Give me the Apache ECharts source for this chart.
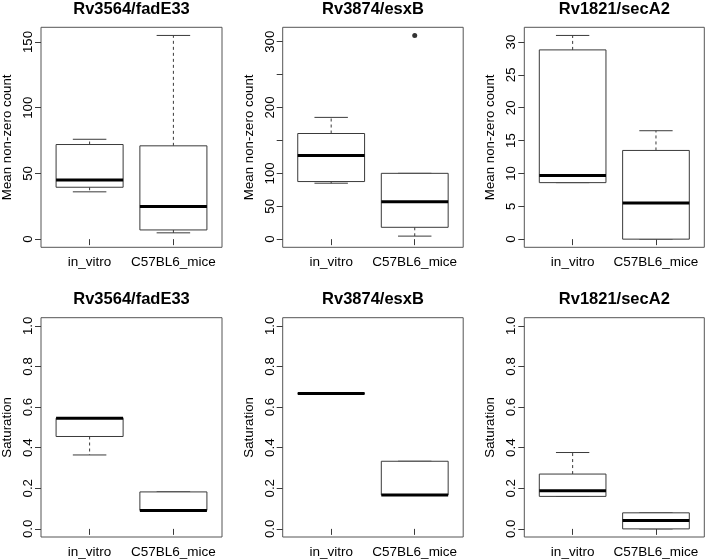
<!DOCTYPE html>
<html><head><meta charset="utf-8">
<script src="https://cdn.jsdelivr.net/npm/echarts@6/dist/echarts.min.js"></script>
<style>html,body{margin:0;padding:0;background:#fff}#c{width:707px;height:559px}</style>
</head><body><div id="c"></div>
<script>
// ---------- data ----------
const categories = ['in_vitro', 'C57BL6_mice'];
const geneTitles = ['Rv3564/fadE33', 'Rv3874/esxB', 'Rv1821/secA2'];
const yNameCount = 'Mean non-zero count';
const yNameSat = 'Saturation';

// box stats: [min, Q1, median, Q3, max]
const fadE33CountInVitro = [36, 39.5, 45, 72, 76];
const fadE33CountMice    = [4.8, 7, 24.8, 71, 155];
const esxBCountInVitro   = [85, 87.5, 127, 160.5, 185];
const esxBCountMice      = [4.6, 18, 57, 100, 100];
const esxBCountMiceOutliers = [309.5];
const secA2CountInVitro  = [8.6, 8.6, 9.7, 28.8, 31];
const secA2CountMice     = [0, 0, 5.5, 13.5, 16.5];

const fadE33SatInVitro = [0.364, 0.455, 0.545, 0.545, 0.545];
const fadE33SatMice    = [0.091, 0.091, 0.091, 0.182, 0.182];
const esxBSatInVitro   = [0.667, 0.667, 0.667, 0.667, 0.667];
const esxBSatMice      = [0.167, 0.167, 0.167, 0.333, 0.333];
const secA2SatInVitro  = [0.16, 0.16, 0.188, 0.27, 0.376];
const secA2SatMice     = [0, 0, 0.041, 0.079, 0.079];

// tick values and labelled ticks
const fadE33CountTicks  = [0, 50, 100, 150];
const fadE33CountLabels = [0, 50, 100, 150];
const esxBCountTicks    = [0, 50, 100, 150, 200, 250, 300];
const esxBCountLabels   = [0, 50, 100, 200, 300];
const secA2CountTicks   = [0, 5, 10, 15, 20, 25, 30];
const secA2CountLabels  = [0, 5, 10, 15, 20, 25, 30];
const satTicks  = [0, 0.2, 0.4, 0.6, 0.8, 1.0];
const satLabels = [0, 0.2, 0.4, 0.6, 0.8, 1.0];

// ---------- layout ----------
const colLeft = [41, 282.7, 524.3];
const colWidth = [181, 180.5, 180];
const rowTop = [27.3, 317.7];
const rowHeight = [220, 219.6];
const titleTop = [0.5, 290.5];

const panels = [
  { row: 0, col: 0, a: fadE33CountInVitro, b: fadE33CountMice, out: [], ticks: fadE33CountTicks, labels: fadE33CountLabels, name: yNameCount, fixed: null, dec: 0 },
  { row: 0, col: 1, a: esxBCountInVitro, b: esxBCountMice, out: esxBCountMiceOutliers, ticks: esxBCountTicks, labels: esxBCountLabels, name: yNameCount, fixed: null, dec: 0 },
  { row: 0, col: 2, a: secA2CountInVitro, b: secA2CountMice, out: [], ticks: secA2CountTicks, labels: secA2CountLabels, name: yNameCount, fixed: null, dec: 0 },
  { row: 1, col: 0, a: fadE33SatInVitro, b: fadE33SatMice, out: [], ticks: satTicks, labels: satLabels, name: yNameSat, fixed: [0, 1], dec: 1 },
  { row: 1, col: 1, a: esxBSatInVitro, b: esxBSatMice, out: [], ticks: satTicks, labels: satLabels, name: yNameSat, fixed: [0, 1], dec: 1 },
  { row: 1, col: 2, a: secA2SatInVitro, b: secA2SatMice, out: [], ticks: satTicks, labels: satLabels, name: yNameSat, fixed: [0, 1], dec: 1 }
];

const FONT = '"Liberation Sans", Arial, Helvetica, sans-serif';
const LINE = '#3a3a3a';

function renderBox(params, api) {
  const x = api.value(0);
  const lo = api.value(1), q1 = api.value(2), med = api.value(3), q3 = api.value(4), hi = api.value(5);
  const cx = api.coord([x, med])[0];
  const boxW = api.size([0.8, 0])[0];
  const hw = boxW / 2, sw = boxW / 4;
  const yLo = api.coord([x, lo])[1], yQ1 = api.coord([x, q1])[1];
  const yMed = api.coord([x, med])[1];
  const yQ3 = api.coord([x, q3])[1], yHi = api.coord([x, hi])[1];
  const thin = { stroke: LINE, lineWidth: 1, fill: null };
  const dashed = { stroke: LINE, lineWidth: 1, fill: null, lineDash: [3, 3] };
  const children = [];
  if (yHi < yQ3 - 0.5) children.push({ type: 'line', shape: { x1: cx, y1: yQ3, x2: cx, y2: yHi }, style: dashed });
  if (yLo > yQ1 + 0.5) children.push({ type: 'line', shape: { x1: cx, y1: yQ1, x2: cx, y2: yLo }, style: dashed });
  children.push({ type: 'line', shape: { x1: cx - sw, y1: yHi, x2: cx + sw, y2: yHi }, style: thin });
  children.push({ type: 'line', shape: { x1: cx - sw, y1: yLo, x2: cx + sw, y2: yLo }, style: thin });
  children.push({ type: 'rect', shape: { x: cx - hw, y: yQ3, width: boxW, height: yQ1 - yQ3 }, style: { fill: '#fff', stroke: LINE, lineWidth: 1 } });
  children.push({ type: 'line', shape: { x1: cx - hw, y1: yMed, x2: cx + hw, y2: yMed }, style: { stroke: '#000', lineWidth: 3 } });
  return { type: 'group', children };
}

const grid = [], xAxis = [], yAxis = [], series = [], title = [];
panels.forEach((p, i) => {
  grid.push({ left: colLeft[p.col], top: rowTop[p.row], width: colWidth[p.col], height: rowHeight[p.row],
    show: true, borderColor: '#555', borderWidth: 1, backgroundColor: 'transparent', containLabel: false });
  title.push({ text: geneTitles[p.col], left: colLeft[p.col] + colWidth[p.col] / 2, top: titleTop[p.row], textAlign: 'center', padding: 0,
    textStyle: { fontFamily: FONT, fontSize: 16.5, fontWeight: 'bold', color: '#000' } });
  xAxis.push({ type: 'value', gridIndex: i, min: 0.42, max: 2.58,
    axisLine: { show: false }, splitLine: { show: false },
    axisTick: { show: true, length: 6, lineStyle: { color: LINE }, customValues: [1, 2] },
    axisLabel: { customValues: [1, 2], margin: 8, color: '#000', fontFamily: FONT, fontSize: 13.5,
      formatter: v => categories[Math.round(v) - 1] } });
  let lo, hi;
  if (p.fixed) { lo = p.fixed[0]; hi = p.fixed[1]; }
  else { lo = 0; hi = Math.max(...p.a, ...p.b, ...p.out); }
  const pad = (hi - lo) * 0.04;
  yAxis.push({ type: 'value', gridIndex: i, min: lo - pad, max: hi + pad,
    name: p.name, nameLocation: 'middle', nameGap: 27,
    nameTextStyle: { fontFamily: FONT, fontSize: 13.3, color: '#000' },
    axisLine: { show: false }, splitLine: { show: false },
    axisTick: { show: true, length: 6, lineStyle: { color: LINE }, customValues: p.ticks },
    axisLabel: { customValues: p.labels, rotate: 90, margin: 6, color: '#000', fontFamily: FONT, fontSize: 13.3,
      formatter: v => v.toFixed(p.dec) } });
  series.push({ type: 'custom', xAxisIndex: i, yAxisIndex: i, renderItem: renderBox,
    encode: { x: 0, y: [1, 2, 3, 4, 5] },
    data: [[1, ...p.a], [2, ...p.b]] });
  if (p.out.length) {
    series.push({ type: 'scatter', xAxisIndex: i, yAxisIndex: i, symbol: 'circle', symbolSize: 5,
      itemStyle: { color: '#000' }, data: p.out.map(v => [2, v]) });
  }
});

const chart = echarts.init(document.getElementById('c'), null, { renderer: 'canvas' });
chart.setOption({ animation: false, backgroundColor: '#fff', title, grid, xAxis, yAxis, series });
</script></body></html>
